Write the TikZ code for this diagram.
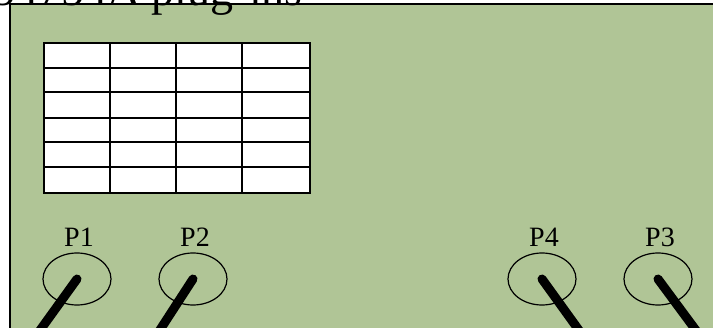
\documentclass[tikz,border=0pt]{standalone}
\usepackage{fontspec}
\setmainfont{Liberation Serif}
\usetikzlibrary{shapes.geometric}
\definecolor{panelgreen}{RGB}{176,197,150}

\begin{document}
\begin{tikzpicture}[x=1pt, y=-1pt,
        port/.style={ellipse, draw, line width=1.2pt, minimum width=68pt, minimum height=52pt, inner sep=0pt},
        portlabel/.style={font=\fontsize{28}{28}\selectfont, anchor=base, inner sep=0pt},
        cable/.style={line width=9pt, line cap=round}]
    \useasboundingbox (0,0) rectangle (713,328);
    % front panel
    \fill[panelgreen] (10,4) rectangle (740,350);
    \draw[line width=2pt] (10,350) -- (10,4) -- (740,4);
    \node[anchor=base west, inner sep=0pt, font=\fontsize{46}{46}\selectfont] (title) at (-8,6) {54754A plug-ins};
    % display
    \draw[fill=white, line width=2pt] (44,43) rectangle (310,193);
    \foreach \x in {110,176,242}
        \draw[line width=2pt] (\x,43) -- (\x,193);
    \foreach \y in {68,92,118,142,167}
        \draw[line width=2pt] (44,\y) -- (310,\y);
    % ports and cables
    \foreach \name/\x/\dx in {P1/77/-40, P2/193/-36, P4/542/40, P3/658/41}{
        \node[port] (\name) at (\x,279) {};
        \node[portlabel] (\name-lbl) at (\x+2,247) {\name};
        \coordinate (\name-end) at (\x+1.1*\dx,340);
        \draw[cable] (\name.center) -- (\name-end);}
\end{tikzpicture}
\end{document}
